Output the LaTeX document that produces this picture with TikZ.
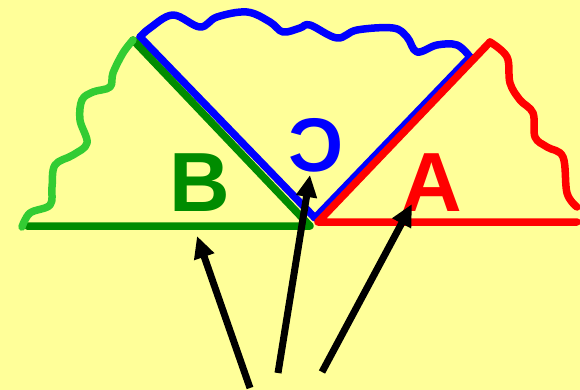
\documentclass[tikz,border=0pt]{standalone}
\usepackage{fontspec}
\setmainfont{Liberation Sans}
\usepackage{graphicx}
\usetikzlibrary{arrows.meta}
\definecolor{bg}{HTML}{FFFF99}
\definecolor{dkgreen}{HTML}{008C00}
\definecolor{ltgreen}{HTML}{33CC33}
\definecolor{myblue}{HTML}{0000FF}
\definecolor{myred}{HTML}{FF0000}
\tikzset{
  edge/.style={line width=7.5pt, line cap=round, line join=round},
  wave/.style={line width=7.5pt, line cap=round, line join=round},
  pointer/.style={line width=7pt, -{Triangle[length=22pt,width=20pt]}, black},
  letter/.style={font=\bfseries, inner sep=0pt, anchor=center}
}
\begin{document}
\begin{tikzpicture}[x=1pt,y=-1pt]
\fill[bg] (0,0) rectangle (580,390);
\useasboundingbox (0,0) rectangle (580,390);
% blue
\draw[edge, myblue] (140,37) -- (315,218) -- (470,57);
\draw[wave, myblue] plot[smooth, tension=0.6] coordinates {(140,37) (150,28) (173,15) (200,27) (217,17) (247,12) (270,22) (283,32) (300,28) (310,25) (337,38) (357,30) (393,28) (407,37) (417,52) (437,45) (457,45) (470,57)};
% green
\draw[edge, dkgreen] (27,226) -- (310,226) -- (133,40);
\draw[wave, ltgreen] plot[smooth, tension=0.6] coordinates {(133,40) (123,53) (113,73) (110,87) (93,92) (82,100) (80,120) (87,143) (73,155) (55,165) (52,187) (50,205) (30,213) (22,227)};
% red
\draw[edge, myred] (577,222) -- (318,222) -- (490,42);
\draw[wave, myred] plot[smooth, tension=0.6] coordinates {(490,42) (507,57) (510,83) (520,100) (533,113) (535,137) (547,147) (563,157) (567,193) (577,207)};
% letters
\node[letter, dkgreen, font=\fontsize{84}{84}\selectfont\bfseries] (B) at (200,183) {B};
\node[letter, myred, font=\fontsize{84}{84}\selectfont\bfseries] (A) at (432,183) {A};
\node[letter, myblue, font=\fontsize{76}{76}\selectfont\bfseries] (C) at (316,145) {\reflectbox{C}};
% arrows
\coordinate (t1) at (250,388);
\coordinate (h1) at (197,236);
\coordinate (t2) at (278,373);
\coordinate (h2) at (310,175);
\coordinate (t3) at (322,372);
\coordinate (h3) at (412,204);
\draw[pointer] (t1) -- (h1);
\draw[pointer] (t2) -- (h2);
\draw[pointer] (t3) -- (h3);
\end{tikzpicture}
\end{document}
